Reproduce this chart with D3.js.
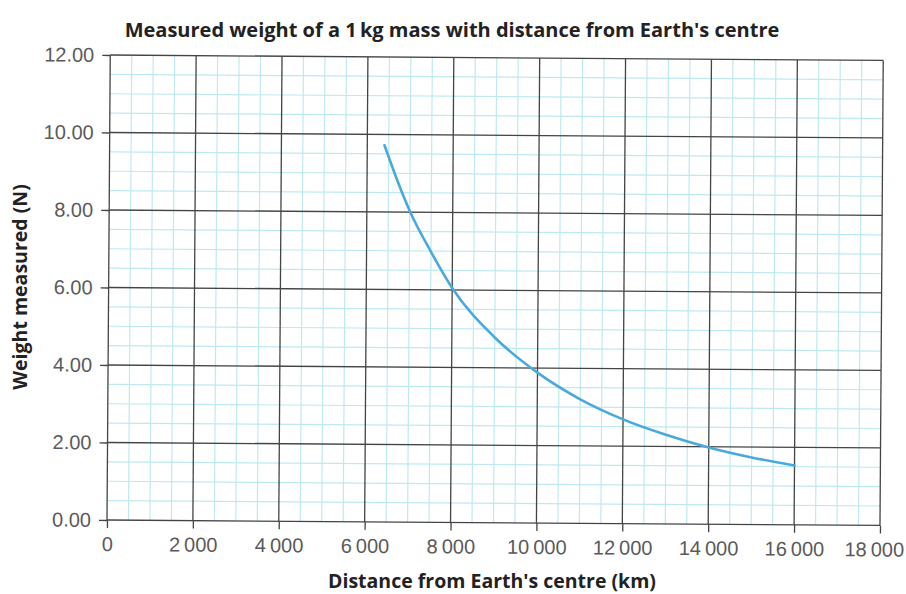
<!DOCTYPE html>
<html>
<head>
<meta charset="utf-8">
<script src="https://cdn.jsdelivr.net/npm/d3@7"></script>
<style>
  body { margin: 0; background: #fff; }
  svg { display: block; font-family: "Open Sans", "Noto Sans", sans-serif; }
  .tick-label { fill: #5a5a5a; font-size: 20px; }
  .title { font-weight: bold; fill: #222; }
</style>
</head>
<body>
<div id="chart"></div>
<script>
// Values
const distances = [6400, 6800, 7000, 7500, 8000, 9000, 10000, 11000, 12000, 13000, 14000, 15000, 16000];
const weights = [9.72, 8.55, 8.03, 6.98, 6.05, 4.78, 3.88, 3.2, 2.69, 2.3, 1.98, 1.73, 1.53];

const xTicks = [0, 2000, 4000, 6000, 8000, 10000, 12000, 14000, 16000, 18000];
const yTicks = [0, 2, 4, 6, 8, 10, 12];

const width = 906, height = 594;
const margin = { top: 55, right: 26, bottom: 74, left: 107 };

const svg = d3.select('#chart').append('svg')
  .attr('width', width)
  .attr('height', height);

const x = d3.scaleLinear().domain([0, 18000]).range([margin.left, width - margin.right]);
const y = d3.scaleLinear().domain([0, 12]).range([height - margin.bottom, margin.top]);

// the scanned page is a little tilted
const plot = svg.append('g')
  .attr('transform', `rotate(0.4, ${margin.left}, ${height - margin.bottom})`);

// minor grid (every 500 km / 0.5 N)
const grid = plot.append('g');
grid.selectAll('.minor-x')
  .data(d3.range(500, 18000, 500).filter(v => v % 2000 !== 0))
  .join('line')
  .attr('x1', d => x(d)).attr('x2', d => x(d))
  .attr('y1', y(0)).attr('y2', y(12))
  .attr('stroke', '#bfe9f0').attr('stroke-width', 1.2);
grid.selectAll('.minor-y')
  .data(d3.range(0.5, 12, 0.5).filter(v => v % 2 !== 0))
  .join('line')
  .attr('x1', x(0)).attr('x2', x(18000))
  .attr('y1', d => y(d)).attr('y2', d => y(d))
  .attr('stroke', '#bfe9f0').attr('stroke-width', 1.2);

// major grid
grid.selectAll('.major-x')
  .data(xTicks)
  .join('line')
  .attr('x1', d => x(d)).attr('x2', d => x(d))
  .attr('y1', y(0)).attr('y2', y(12))
  .attr('stroke', '#444').attr('stroke-width', 1.3);
grid.selectAll('.major-y')
  .data(yTicks)
  .join('line')
  .attr('x1', x(0)).attr('x2', x(18000))
  .attr('y1', d => y(d)).attr('y2', d => y(d))
  .attr('stroke', '#444').attr('stroke-width', 1.3);

// axes with outward ticks
const fmtX = d => d === 0 ? '0' : d3.format(',')(d).replace(',', '\u2009');
const xAxis = d3.axisBottom(x).tickValues(xTicks).tickSize(8).tickFormat(fmtX);
const yAxis = d3.axisLeft(y).tickValues(yTicks).tickSize(8).tickPadding(8).tickFormat(d3.format('.2f'));

const gx = plot.append('g')
  .attr('transform', `translate(0,${y(0)})`)
  .call(xAxis);
const gy = plot.append('g')
  .attr('transform', `translate(${x(0)},0)`)
  .call(yAxis);

[gx, gy].forEach(g => {
  g.select('.domain').remove();
  g.selectAll('.tick line').attr('stroke', '#444').attr('stroke-width', 1.3);
  g.selectAll('.tick text').attr('class', 'tick-label').attr('fill', null);
});
gx.selectAll('.tick text')
  .attr('y', 31).attr('dy', 0)
  .attr('dx', d => d === 18000 ? -6 : 0);

// the curve
const line = d3.line()
  .x(d => x(d))
  .y((d, i) => y(weights[i]))
  .curve(d3.curveMonotoneX);

plot.append('path')
  .datum(distances)
  .attr('d', line)
  .attr('fill', 'none')
  .attr('stroke', '#4aa9dc')
  .attr('stroke-width', 2.6)
  .attr('stroke-linecap', 'round');

// titles
svg.append('text')
  .attr('class', 'title')
  .attr('x', 452).attr('y', 37)
  .attr('text-anchor', 'middle')
  .attr('font-size', 20)
  .text("Measured weight of a 1\u2009kg mass with distance from Earth's centre");

svg.append('text')
  .attr('class', 'title')
  .attr('x', 492).attr('y', 588)
  .attr('text-anchor', 'middle')
  .attr('font-size', 19.5)
  .text("Distance from Earth's centre (km)");

svg.append('text')
  .attr('class', 'title')
  .attr('transform', 'translate(27,287) rotate(-90)')
  .attr('text-anchor', 'middle')
  .attr('font-size', 19.5)
  .text('Weight measured (N)');
</script>
</body>
</html>
